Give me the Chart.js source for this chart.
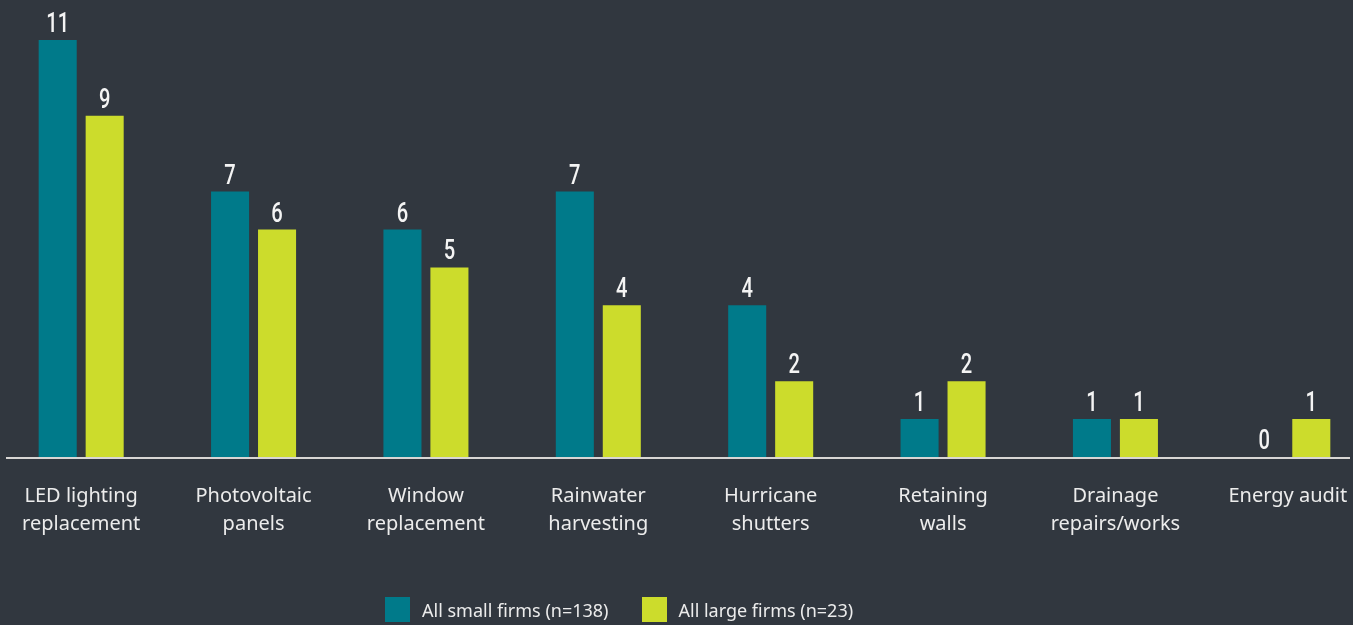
<!DOCTYPE html>
<html>
<head>
<meta charset="utf-8">
<script src="https://cdn.jsdelivr.net/npm/chart.js@4.4.1/dist/chart.umd.min.js"></script>
<style>
  html, body { margin: 0; padding: 0; background: #31373f; overflow: hidden; }
  #wrap { position: relative; width: 1353px; height: 625px; overflow: hidden; }
  #chart { position: absolute; left: -5px; top: 0; }
  #legend { position: absolute; left: 385px; top: 597px; display: flex; align-items: center;
            font-family: 'Noto Sans', 'Open Sans', sans-serif; font-size: 18px; color: #ececec; }
  #legend .item { display: flex; align-items: center; margin-right: 33px; }
  #legend .box { width: 25px; height: 25px; margin-right: 12px; }
</style>
</head>
<body>
<div id="wrap">
  <canvas id="chart" width="1379" height="625"></canvas>
  <div id="legend"></div>
</div>
<script>
// categories (multi-line labels) and series
const categories = [
  ['LED lighting', 'replacement'],
  ['Photovoltaic', 'panels'],
  ['Window', 'replacement'],
  ['Rainwater', 'harvesting'],
  ['Hurricane', 'shutters'],
  ['Retaining', 'walls'],
  ['Drainage', 'repairs/works'],
  ['Energy audit']
];
const smallFirms = [11, 7, 6, 7, 4, 1, 1, 0];
const largeFirms = [9, 6, 5, 4, 2, 2, 1, 1];
const seriesLabels = ['All small firms (n=138)', 'All large firms (n=23)'];
const seriesColors = ['#007a8a', '#ccdc2c'];

// canvas is shifted 5px left of the page, so the visible baseline starts at 6px on the page
const canvasShift = 5;

// value labels above bars (narrow figures like the original)
const valueLabels = {
  id: 'valueLabels',
  afterDatasetsDraw(chart) {
    const { ctx } = chart;
    const squeeze = 0.72;
    ctx.save();
    ctx.fillStyle = '#f4f4f4';
    ctx.font = '500 28px Roboto, "Noto Sans", sans-serif';
    ctx.textAlign = 'center';
    ctx.textBaseline = 'alphabetic';
    chart.data.datasets.forEach((ds, i) => {
      chart.getDatasetMeta(i).data.forEach((bar, j) => {
        ctx.save();
        ctx.translate(bar.x, bar.y - 8);
        ctx.scale(squeeze, 1);
        ctx.fillText(String(ds.data[j]), 0, 0);
        ctx.restore();
      });
    });
    ctx.restore();
  }
};

// light baseline across the plot
const baseline = {
  id: 'baseline',
  afterDatasetsDraw(chart) {
    const { ctx } = chart;
    const y = chart.scales.y.getPixelForValue(0);
    ctx.save();
    ctx.strokeStyle = '#d8d6d4';
    ctx.lineWidth = 2;
    ctx.beginPath();
    ctx.moveTo(canvasShift + 6, y + 1);
    ctx.lineTo(canvasShift + 1350, y + 1);
    ctx.stroke();
    ctx.restore();
  }
};

const chart = new Chart(document.getElementById('chart'), {
  type: 'bar',
  data: {
    labels: categories,
    datasets: [
      { label: seriesLabels[0], data: smallFirms, backgroundColor: seriesColors[0] },
      { label: seriesLabels[1], data: largeFirms, backgroundColor: seriesColors[1] }
    ]
  },
  plugins: [baseline, valueLabels],
  options: {
    responsive: false,
    animation: false,
    layout: { padding: { left: 0, right: 0, top: 2, bottom: 70 } },
    datasets: { bar: { categoryPercentage: 0.545, barPercentage: 0.81 } },
    plugins: { legend: { display: false }, tooltip: { enabled: false } },
    scales: {
      x: {
        grid: { display: false },
        border: { display: false },
        ticks: {
          color: '#ececec',
          padding: 17,
          maxRotation: 0,
          autoSkip: false,
          font: { family: "'Noto Sans', 'Open Sans', sans-serif", size: 20, lineHeight: 1.4 }
        }
      },
      y: { display: false, min: 0, max: 12 }
    }
  }
});

// HTML legend built from the datasets
const legendEl = document.getElementById('legend');
chart.data.datasets.forEach(ds => {
  const item = document.createElement('div');
  item.className = 'item';
  const box = document.createElement('span');
  box.className = 'box';
  box.style.background = ds.backgroundColor;
  const txt = document.createElement('span');
  txt.textContent = ds.label;
  item.appendChild(box);
  item.appendChild(txt);
  legendEl.appendChild(item);
});
</script>
</body>
</html>
